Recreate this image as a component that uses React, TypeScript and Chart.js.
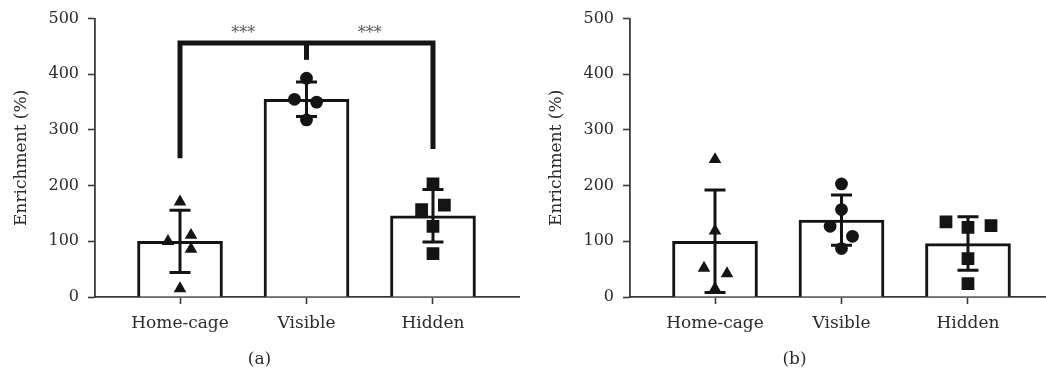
import React, { useEffect, useRef } from 'react';
import { Chart, registerables } from 'chart.js';

Chart.register(...registerables);

const FONT = 'DejaVu Serif';
const TEXT = '#2a2a2a';
const INK = '#141414';
const AXIS = '#3a3a3a';

const categories = ['Home-cage', 'Visible', 'Hidden'];
const yMin = 0;
const yMax = 500;
const yStep = 100;

// Panel (a)
const meansA = [100, 355, 146];
const sdA = [56, 31, 47];
const homeA = [171, 100, 111, 86, 15];
const homeAOffset = [0, -0.095, 0.087, 0.087, 0];
const visibleA = [393, 355, 350, 318];
const visibleAOffset = [0, -0.095, 0.08, 0];
const hiddenA = [203, 157, 165, 127, 78];
const hiddenAOffset = [0, -0.09, 0.09, 0, 0];

// Panel (b)
const meansB = [100, 138, 96];
const sdB = [92, 45, 48];
const homeB = [247, 119, 52, 42, 15];
const homeBOffset = [0, 0, -0.087, 0.095, 0];
const visibleB = [203, 157, 127, 109, 87];
const visibleBOffset = [0, 0, -0.09, 0.087, 0];
const hiddenB = [135, 125, 128, 69, 24];
const hiddenBOffset = [-0.174, 0, 0.182, 0, 0];

// Significance bracket in panel (a)
const bracketTop = 456;
const bracketLeftEnd = 249;
const bracketRightEnd = 266;
const bracketMidEnd = 426;
const starLabels = ['***', '***'];
const starX = [0.5, 1.5];
const starY = 472;

const errorBarPlugin = {
  id: 'errorBars',
  afterDatasetDraw(chart: any, args: any, opts: any) {
    if (args.index !== 0 || !opts || !opts.means) return;
    const { ctx, scales } = chart;
    const xs = scales.x;
    const ys = scales.y;
    ctx.save();
    ctx.strokeStyle = INK;
    ctx.lineWidth = 3;
    ctx.lineCap = 'butt';
    opts.means.forEach((m: number, i: number) => {
      const sd = opts.sds[i];
      const x = xs.getPixelForValue(i);
      const yt = ys.getPixelForValue(m + sd);
      const yb = ys.getPixelForValue(m - sd);
      ctx.beginPath();
      ctx.moveTo(x, yt);
      ctx.lineTo(x, yb);
      ctx.moveTo(x - 10.5, yt);
      ctx.lineTo(x + 10.5, yt);
      ctx.moveTo(x - 10.5, yb);
      ctx.lineTo(x + 10.5, yb);
      ctx.stroke();
    });
    ctx.restore();
  },
};

const bracketPlugin = {
  id: 'bracket',
  afterDraw(chart: any, _args: any, opts: any) {
    if (!opts || !opts.show) return;
    const { ctx, scales } = chart;
    const xs = scales.x;
    const ys = scales.y;
    const x0 = xs.getPixelForValue(0);
    const x1 = xs.getPixelForValue(1);
    const x2 = xs.getPixelForValue(2);
    const yTop = ys.getPixelForValue(bracketTop);
    ctx.save();
    ctx.strokeStyle = INK;
    ctx.lineWidth = 5;
    ctx.lineJoin = 'miter';
    ctx.lineCap = 'butt';
    ctx.beginPath();
    ctx.moveTo(x0, ys.getPixelForValue(bracketLeftEnd));
    ctx.lineTo(x0, yTop);
    ctx.lineTo(x2, yTop);
    ctx.lineTo(x2, ys.getPixelForValue(bracketRightEnd));
    ctx.stroke();
    ctx.beginPath();
    ctx.moveTo(x1, yTop);
    ctx.lineTo(x1, ys.getPixelForValue(bracketMidEnd));
    ctx.stroke();
    ctx.fillStyle = '#555';
    ctx.font = `16px "${FONT}"`;
    ctx.textAlign = 'center';
    ctx.textBaseline = 'middle';
    starLabels.forEach((s, i) => {
      ctx.fillText(s, xs.getPixelForValue(starX[i]), ys.getPixelForValue(starY));
    });
    ctx.restore();
  },
};

function pts(vals: number[], offs: number[], cat: number) {
  return vals.map((v, i) => ({ x: cat + offs[i], y: v }));
}

function makeConfig(
  label: string,
  means: number[],
  sds: number[],
  home: number[],
  homeOff: number[],
  vis: number[],
  visOff: number[],
  hid: number[],
  hidOff: number[],
  showBracket: boolean
): any {
  const tickFont = { family: FONT, size: 16 };
  const labelFont = { family: FONT, size: 17 };
  return {
    type: 'bar',
    data: {
      datasets: [
        {
          type: 'bar',
          data: means.map((m, i) => ({ x: i, y: m })),
          backgroundColor: '#ffffff',
          borderColor: INK,
          borderWidth: 3,
          barThickness: 85,
          borderSkipped: 'start',
          order: 5,
        },
        {
          type: 'scatter',
          data: pts(home, homeOff, 0),
          pointStyle: 'triangle',
          pointRadius: 7.3,
          backgroundColor: INK,
          borderWidth: 0,
          order: 1,
        },
        {
          type: 'scatter',
          data: pts(vis, visOff, 1),
          pointStyle: 'circle',
          pointRadius: 6.4,
          backgroundColor: INK,
          borderWidth: 0,
          order: 1,
        },
        {
          type: 'scatter',
          data: pts(hid, hidOff, 2),
          pointStyle: 'rect',
          pointRadius: 9,
          backgroundColor: INK,
          borderWidth: 0,
          order: 1,
        },
      ],
    },
    options: {
      responsive: false,
      animation: false,
      devicePixelRatio: 1,
      layout: { autoPadding: false, padding: { top: 16, left: 0, right: 1, bottom: 7 } },
      plugins: {
        legend: { display: false },
        tooltip: { enabled: false },
        title: {
          display: true,
          text: label,
          position: 'bottom',
          font: { ...labelFont, weight: 'normal' },
          color: TEXT,
          padding: { top: 0, bottom: 0 },
        },
        errorBars: { means, sds },
        bracket: { show: showBracket },
      },
      scales: {
        x: {
          type: 'linear',
          offset: false,
          min: -0.672,
          max: 2.68,
          afterBuildTicks: (s: any) => {
            s.ticks = categories.map((_, i) => ({ value: i }));
          },
          afterFit: (s: any) => {
            s.height = 52.6;
            s.paddingLeft = 0;
            s.paddingRight = 0;
          },
          ticks: {
            callback: (v: any) => categories[Math.round(Number(v))] ?? '',
            autoSkip: false,
            maxRotation: 0,
            padding: 9,
            font: labelFont,
            color: TEXT,
          },
          grid: {
            drawOnChartArea: false,
            offset: false,
            tickLength: 7,
            tickColor: AXIS,
            tickWidth: 1.6,
          },
          border: { color: AXIS, width: 1.8 },
        },
        y: {
          type: 'linear',
          min: yMin,
          max: yMax,
          afterFit: (s: any) => {
            s.width = 95;
          },
          ticks: {
            stepSize: yStep,
            padding: 9,
            font: tickFont,
            color: TEXT,
          },
          grid: {
            drawOnChartArea: false,
            tickLength: 7,
            tickColor: AXIS,
            tickWidth: 1.6,
          },
          border: { color: AXIS, width: 1.8 },
          title: {
            display: true,
            text: 'Enrichment (%)',
            font: labelFont,
            color: TEXT,
            padding: { top: 11, bottom: 0 },
          },
        },
      },
    },
    plugins: [errorBarPlugin, bracketPlugin],
  };
}

export default function App() {
  const refA = useRef<HTMLCanvasElement | null>(null);
  const refB = useRef<HTMLCanvasElement | null>(null);

  useEffect(() => {
    const a = new Chart(
      refA.current as HTMLCanvasElement,
      makeConfig('(a)', meansA, sdA, homeA, homeAOffset, visibleA, visibleAOffset, hiddenA, hiddenAOffset, true)
    );
    const b = new Chart(
      refB.current as HTMLCanvasElement,
      makeConfig('(b)', meansB, sdB, homeB, homeBOffset, visibleB, visibleBOffset, hiddenB, hiddenBOffset, false)
    );
    return () => {
      a.destroy();
      b.destroy();
    };
  }, []);

  return (
    <div
      style={{
        position: 'fixed',
        left: 0,
        top: 0,
        width: 1046,
        height: 377,
        overflow: 'hidden',
        background: '#ffffff',
      }}
    >
      <canvas
        ref={refA}
        width={520}
        height={377}
        style={{ position: 'absolute', left: 0, top: 0, width: 520, height: 377 }}
      />
      <canvas
        ref={refB}
        width={520}
        height={377}
        style={{ position: 'absolute', left: 535, top: 0, width: 520, height: 377 }}
      />
    </div>
  );
}
